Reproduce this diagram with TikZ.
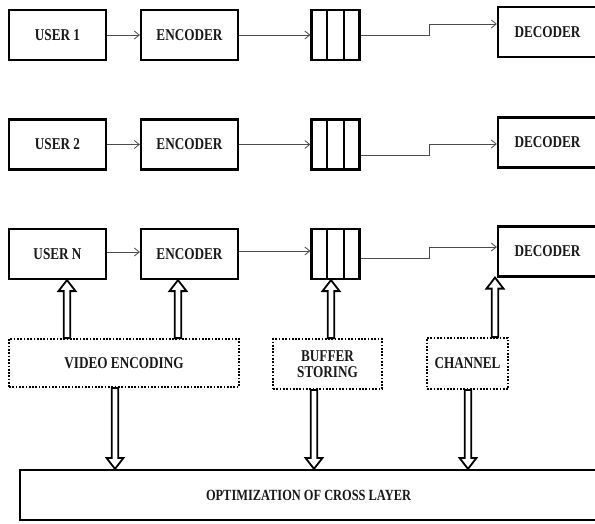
\documentclass[tikz,border=0pt]{standalone}
\usepackage{fontspec}
\setmainfont{Liberation Serif}[FakeStretch=0.8]
\usetikzlibrary{arrows.meta,calc}
\begin{document}
\begin{tikzpicture}[x=1pt,y=-1pt,
  lbl/.style={font=\fontsize{16.5}{17.5}\selectfont\bfseries, text=black!90},
  box/.style={draw, line width=2.2pt, inner sep=0pt, minimum width=97pt, minimum height=50pt, lbl},
  bufbox/.style={draw, line width=2.2pt, inner sep=0pt, minimum width=48pt, minimum height=50pt},
  decbox/.style={box, minimum width=99pt},
  dotbox/.style={draw, line width=1.8pt, dash pattern=on 1.7pt off 1.6pt, inner sep=0pt, lbl, align=center},
  conn/.style={draw=black!70, line width=0.8pt, -{Straight Barb[length=5pt,width=8pt]}},
  fat/.style={draw, line width=1.8pt, fill=white, line join=miter},
  fatup/.style={to path={let \p1=(\tikztostart),\p2=(\tikztotarget) in
     (\x1-3.3pt,\y1) -- (\x1-3.3pt,\y2-11pt) -- (\x1-8.5pt,\y2-11pt) -- (\x1,\y2)
     -- (\x1+8.5pt,\y2-11pt) -- (\x1+3.3pt,\y2-11pt) -- (\x1+3.3pt,\y1) -- cycle}},
  fatdown/.style={to path={let \p1=(\tikztostart),\p2=(\tikztotarget) in
     (\x1-3.3pt,\y1) -- (\x1-3.3pt,\y2+11pt) -- (\x1-8.5pt,\y2+11pt) -- (\x1,\y2)
     -- (\x1+8.5pt,\y2+11pt) -- (\x1+3.3pt,\y2+11pt) -- (\x1+3.3pt,\y1) -- cycle}}
]
\clip (0,0) rectangle (595,524);
\fill[white] (0,0) rectangle (595,524);

% row 1
\node[box] (u1) at (57.5,35) {USER 1};
\node[box] (e1) at (189.5,35) {ENCODER};
\node[bufbox] (b1) at (335.5,35) {};
\node[decbox] (d1) at (547.5,32) {DECODER};
% row 2
\node[box] (u2) at (57.5,144.5) {USER 2};
\node[box] (e2) at (189.5,144.5) {ENCODER};
\node[bufbox] (b2) at (335.5,144.5) {};
\node[decbox] (d2) at (547.5,142.5) {DECODER};
% row 3
\node[box] (u3) at (57.5,254) {USER N};
\node[box] (e3) at (189.5,254) {ENCODER};
\node[bufbox] (b3) at (335.5,254) {};
\node[decbox] (d3) at (547.5,251.5) {DECODER};

% buffer compartments
\foreach \b in {b1,b2,b3}{
  \draw[line width=2pt] ($(\b.north west)!1/3!(\b.north east)$) -- ($(\b.south west)!1/3!(\b.south east)$);
  \draw[line width=2pt] ($(\b.north west)!2/3!(\b.north east)$) -- ($(\b.south west)!2/3!(\b.south east)$);
}

% layer boxes
\node[dotbox, minimum width=230pt, minimum height=48pt] (ve) at (124,363) {VIDEO ENCODING};
\node[dotbox, minimum width=109pt, minimum height=50pt] (bs) at (327.5,364) {BUFFER\\[-1pt]STORING};
\node[dotbox, minimum width=81pt, minimum height=51pt] (ch) at (467.5,363.5) {CHANNEL};
\node[draw, line width=2.2pt, inner sep=0pt, minimum width=577pt, minimum height=50pt,
      font=\fontsize{15.5}{16.5}\selectfont\bfseries, text=black!90] (opt) at (308.5,495) {OPTIMIZATION OF CROSS LAYER};

% thin connectors
\draw[conn] (u1.east) -- (e1.west);
\draw[conn] (e1.east) -- (b1.west);
\draw[conn] (b1.east) -- ++(69pt,0) |- ([yshift=8pt]d1.west);
\draw[conn] (u2.east) -- (e2.west);
\draw[conn] (e2.east) -- (b2.west);
\draw[conn] ([yshift=-10.5pt]b2.east) -- ++(69pt,0) |- ([yshift=-1.5pt]d2.west);
\draw[conn] ([yshift=2pt]u3.east) -- ([yshift=2pt]e3.west);
\draw[conn] ([yshift=3pt]e3.east) -- ([yshift=3pt]b3.west);
\draw[conn] ([yshift=-4pt]b3.east) -- ++(69pt,0) |- ([yshift=4.5pt]d3.west);

% hollow arrows up
\draw[fat] ([xshift=-57pt]ve.north) to[fatup] ([xshift=-57pt]ve.north |- u3.south);
\draw[fat] ([xshift=54pt]ve.north) to[fatup] ([xshift=54pt]ve.north |- e3.south);
\draw[fat] ([xshift=3.5pt]bs.north) to[fatup] ([xshift=3.5pt]bs.north |- b3.south);
\draw[fat] ([xshift=27.5pt]ch.north) to[fatup] ([xshift=27.5pt]ch.north |- d3.south);
% hollow arrows down
\draw[fat] ([xshift=-9pt]ve.south) to[fatdown] ([xshift=-9pt]ve.south |- opt.north);
\draw[fat] ([xshift=-13.5pt]bs.south) to[fatdown] ([xshift=-13.5pt]bs.south |- opt.north);
\draw[fat] ([xshift=0.5pt]ch.south) to[fatdown] ([xshift=0.5pt]ch.south |- opt.north);
\end{tikzpicture}
\end{document}
